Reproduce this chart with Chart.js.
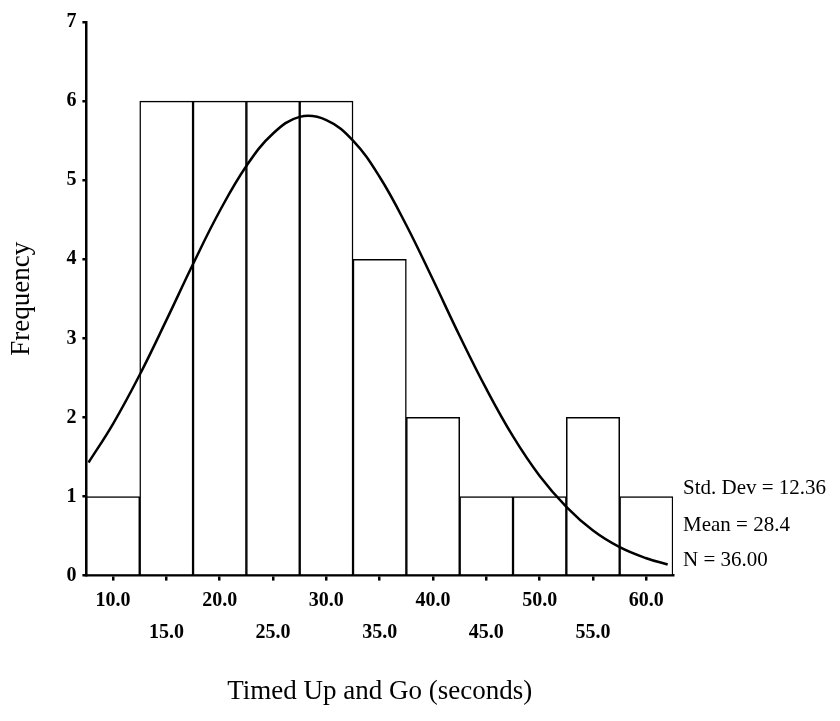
<!DOCTYPE html>
<html>
<head>
<meta charset="utf-8">
<script src="https://cdn.jsdelivr.net/npm/chart.js@4/dist/chart.umd.min.js"></script>
<style>
  body { margin: 0; background: #fff; }
  canvas { display: block; }
</style>
</head>
<body>
<canvas id="histo" width="840" height="721"></canvas>
<script>
// bin centres (seconds) and counts
const binCenters = [10, 15, 20, 25, 30, 35, 40, 45, 50, 55, 60];
const counts = [1, 6, 6, 6, 6, 4, 2, 1, 1, 2, 1];

// fitted normal curve
const curveX = [7.7, 10, 12.5, 15, 17.5, 20, 22.5, 25, 27.5, 30, 32.5, 35, 37.5, 40, 42.5, 45, 47.5, 50, 52.5, 55, 57.5, 60, 62];
const curveY = [1.43, 1.92, 2.54, 3.23, 3.94, 4.61, 5.18, 5.59, 5.80, 5.76, 5.50, 5.04, 4.43, 3.74, 3.03, 2.36, 1.76, 1.26, 0.87, 0.57, 0.36, 0.22, 0.14];

const xTicks = [10, 15, 20, 25, 30, 35, 40, 45, 50, 55, 60];
const yTicks = [0, 1, 2, 3, 4, 5, 6, 7];
const statsText = ['Std. Dev = 12.36', 'Mean = 28.4', 'N = 36.00'];

const serif = "'Liberation Serif', 'DejaVu Serif', serif";

const statsPlugin = {
  id: 'stats',
  afterDraw(chart) {
    const ctx = chart.ctx;
    const area = chart.chartArea;
    ctx.save();
    ctx.fillStyle = '#000';
    ctx.font = '21px ' + serif;
    ctx.textAlign = 'left';
    ctx.textBaseline = 'middle';
    const ups = [87, 50, 15];
    statsText.forEach((t, i) => ctx.fillText(t, area.right + 10, area.bottom - ups[i]));
    ctx.restore();
  }
};

const config = {
  type: 'bar',
  data: {
    datasets: [{
      type: 'line',
      label: 'Normal',
      data: curveX.map((x, i) => ({ x: x, y: curveY[i] })),
      borderColor: '#000',
      borderWidth: 2.5,
      pointRadius: 0,
      tension: 0.4,
      fill: false
    }, {
      label: 'Frequency',
      data: binCenters.map((x, i) => ({ x: x, y: counts[i] })),
      backgroundColor: '#fff',
      borderColor: '#000',
      borderWidth: 1.5,
      barPercentage: 1,
      categoryPercentage: 1
    }]
  },
  options: {
    responsive: false,
    animation: false,
    layout: { padding: { top: 22, right: 167, left: 2, bottom: 9 } },
    plugins: {
      legend: { display: false },
      tooltip: { enabled: false }
    },
    scales: {
      x: {
        type: 'linear',
        offset: false,
        min: 7.5,
        max: 62.5,
        afterBuildTicks: s => { s.ticks = xTicks.map(v => ({ value: v })); },
        grid: { offset: false, drawOnChartArea: false, tickLength: 5, color: '#000', lineWidth: 2.5 },
        border: { color: '#000', width: 2.5 },
        ticks: {
          color: '#000',
          padding: 12,
          maxRotation: 0,
          autoSkip: false,
          font: { family: serif, size: 20, weight: 'bold', lineHeight: 0.8 },
          callback: (v, i) => i % 2 === 0 ? [v.toFixed(1)] : ['', '', v.toFixed(1)]
        },
        title: {
          display: true,
          text: 'Timed Up and Go (seconds)',
          color: '#000',
          font: { family: serif, size: 27 },
          padding: { top: 23 }
        }
      },
      y: {
        min: 0,
        max: 7,
        afterBuildTicks: s => { s.ticks = yTicks.map(v => ({ value: v })); },
        grid: { drawOnChartArea: false, tickLength: 4, color: '#000', lineWidth: 2.5 },
        border: { color: '#000', width: 2.5 },
        ticks: {
          color: '#000',
          padding: 6,
          font: { family: serif, size: 20, weight: 'bold' }
        },
        title: {
          display: true,
          text: 'Frequency',
          color: '#000',
          font: { family: serif, size: 27 },
          padding: { bottom: 22 }
        }
      }
    }
  },
  plugins: [statsPlugin]
};

new Chart(document.getElementById('histo'), config);
</script>
</body>
</html>
